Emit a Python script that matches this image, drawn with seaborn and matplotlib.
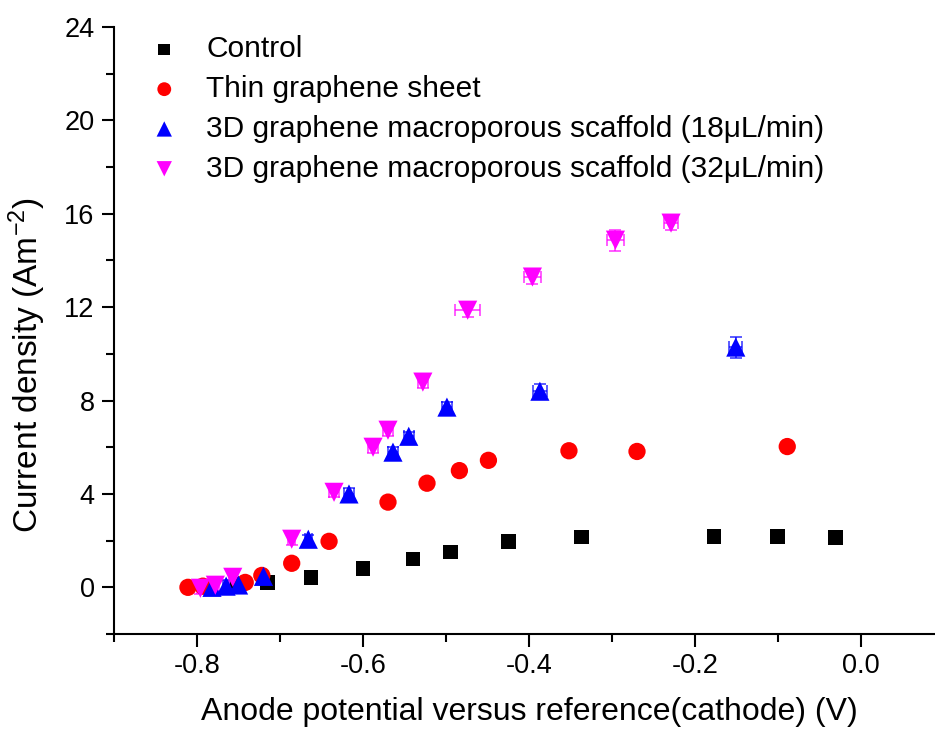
import matplotlib
matplotlib.use("Agg")
import matplotlib.pyplot as plt
import seaborn as sns
import numpy as np
from matplotlib.ticker import MultipleLocator

# ---- data ----
control_x = [-0.790, -0.752, -0.715, -0.663, -0.600, -0.540, -0.495, -0.425, -0.337, -0.177, -0.101, -0.031]
control_y = [0.02, 0.12, 0.20, 0.43, 0.80, 1.22, 1.52, 1.97, 2.16, 2.18, 2.18, 2.14]
control_err = [0.05, 0.05, 0.05, 0.05, 0.05, 0.05, 0.05, 0.05, 0.08, 0.08, 0.08, 0.06]

thin_x = [-0.811, -0.793, -0.742, -0.722, -0.686, -0.641, -0.570, -0.523, -0.484, -0.449, -0.352, -0.270, -0.089]
thin_y = [0.00, 0.05, 0.21, 0.51, 1.03, 1.97, 3.65, 4.46, 5.00, 5.44, 5.85, 5.82, 6.03]
thin_err = [0.05, 0.05, 0.05, 0.05, 0.05, 0.05, 0.08, 0.08, 0.08, 0.08, 0.08, 0.08, 0.08]

s18_x = [-0.782, -0.765, -0.750, -0.720, -0.666, -0.617, -0.564, -0.545, -0.499, -0.387, -0.151]
s18_y = [0.00, 0.05, 0.10, 0.47, 2.06, 4.00, 5.79, 6.47, 7.72, 8.40, 10.29]
s18_err = [0.25, 0.25, 0.25, 0.2, 0.2, 0.25, 0.2, 0.2, 0.2, 0.3, 0.45]
s18_xerr = [0.004, 0.004, 0.004, 0.004, 0.004, 0.006, 0.006, 0.006, 0.006, 0.008, 0.008]

s32_x = [-0.796, -0.778, -0.757, -0.686, -0.635, -0.588, -0.570, -0.528, -0.474, -0.396, -0.296, -0.229]
s32_y = [-0.04, 0.09, 0.43, 2.06, 4.07, 6.00, 6.73, 8.79, 11.87, 13.29, 14.87, 15.60]
s32_err = [0.25, 0.25, 0.3, 0.25, 0.2, 0.25, 0.25, 0.25, 0.3, 0.3, 0.45, 0.3]
s32_xerr = [0.004, 0.004, 0.004, 0.004, 0.006, 0.006, 0.006, 0.006, 0.015, 0.010, 0.010, 0.008]

labels = ["Control", "Thin graphene sheet",
          "3D graphene macroporous scaffold (18\u03bcL/min)",
          "3D graphene macroporous scaffold (32\u03bcL/min)"]

x_ticks = [-0.8, -0.6, -0.4, -0.2, 0.0]
x_ticklabels = ["-0.8", "-0.6", "-0.4", "-0.2", "0.0"]
y_ticks = [0, 4, 8, 12, 16, 20, 24]

sns.set_theme(style="ticks", rc={
    "text.color": "black", "axes.labelcolor": "black",
    "xtick.color": "black", "ytick.color": "black",
    "axes.edgecolor": "black",
})
plt.rcParams['font.family'] = ['Liberation Sans', 'DejaVu Sans']
plt.rcParams['mathtext.fontset'] = 'custom'
plt.rcParams['mathtext.rm'] = 'Liberation Sans'
plt.rcParams['mathtext.it'] = 'Liberation Sans:italic'
plt.rcParams['mathtext.bf'] = 'Liberation Sans:bold'

fig = plt.figure(figsize=(9.35, 7.34), dpi=100)
ax = fig.add_axes([0.122, 0.1362, 0.878, 0.827])

series = [
    (control_x, control_y, control_err, None, 's', '#000000', 110),
    (thin_x, thin_y, thin_err, None, 'o', '#ff0000', 155),
    (s18_x, s18_y, s18_err, s18_xerr, '^', '#0000ff', 190),
    (s32_x, s32_y, s32_err, s32_xerr, 'v', '#ff00ff', 190),
]

for (xs, ys, ye, xe, mk, col, sz), lab in zip(series, labels):
    ax.errorbar(xs, ys, yerr=ye, xerr=xe, fmt='none', ecolor=col, elinewidth=1.2,
                capsize=4, capthick=1.2, alpha=0.75, zorder=2)
    sns.scatterplot(x=xs, y=ys, ax=ax, marker=mk, color=col, s=sz,
                    edgecolor='none', linewidth=0, label=lab, zorder=3)

ax.set_xlim(-0.9, 0.089)
ax.set_ylim(-2, 24)
ax.set_xticks(x_ticks)
ax.set_xticklabels(x_ticklabels)
ax.set_yticks(y_ticks)
ax.xaxis.set_minor_locator(MultipleLocator(0.1))
ax.yaxis.set_minor_locator(MultipleLocator(2))

for sp in ['top', 'right']:
    ax.spines[sp].set_visible(False)
for sp in ['left', 'bottom']:
    ax.spines[sp].set_linewidth(1.5)

ax.tick_params(axis='both', which='major', direction='out', length=9, width=1.5,
               labelsize=19.5, pad=5)
ax.tick_params(axis='both', which='minor', direction='out', length=5.5, width=1.5)

ax.set_xlabel("Anode potential versus reference(cathode) (V)", fontsize=23)
ax.set_ylabel(r"Current density (Am$^{\mathrm{-2}}$)", fontsize=24)
ax.xaxis.set_label_coords(0.506, -0.104)
ax.yaxis.set_label_coords(-0.080, 0.443)

leg = ax.legend(loc='upper left', bbox_to_anchor=(0.0175, 1.016), frameon=False,
                fontsize=21.5, markerscale=0.8, handletextpad=0.8,
                labelspacing=0.395, borderaxespad=0.2, handlelength=1.2)

fig.savefig("out.png", dpi=100, facecolor='white')
